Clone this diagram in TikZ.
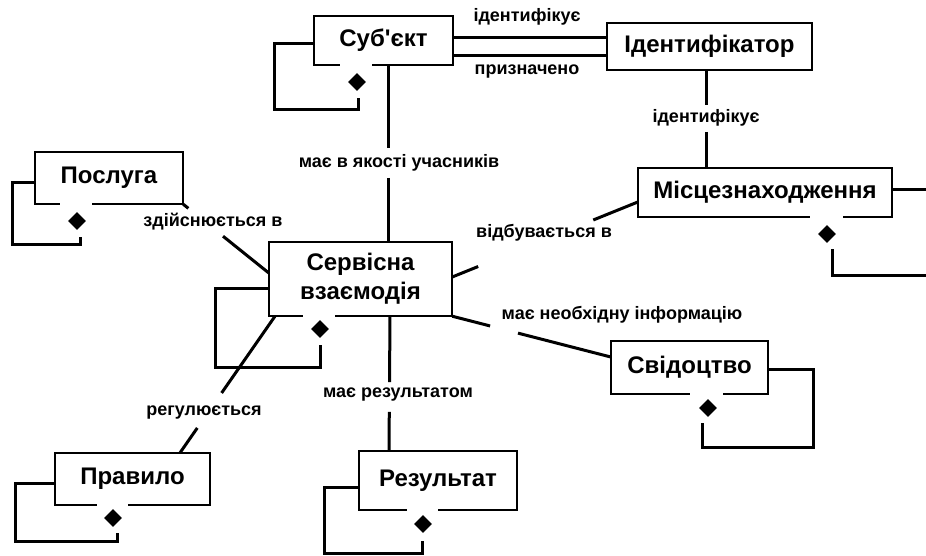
\documentclass[tikz,border=0pt]{standalone}
\usepackage{fontspec}
\setmainfont{Liberation Sans}
\usetikzlibrary{shapes.geometric,calc}

% box outline with an opening in the bottom edge (offsets from the left side)
\newcommand\gapbox[3]{%
  \draw[border] ($(#1.south west)+(#2,0)$) -- (#1.south west) -- (#1.north west)
    -- (#1.north east) -- (#1.south east) -- ($(#1.south west)+(#3,0)$);}
% connector interrupted between two fractions of its length
\newcommand\splitlink[4]{%
  \path #1 -- #2 coordinate[pos=#3] (ga) coordinate[pos=#4] (gb);
  \draw[link] #1 -- (ga);
  \draw[link] (gb) -- #2;}

\begin{document}
\begin{tikzpicture}[x=1pt,y=-1pt,
  entity/.style={inner sep=0pt, align=center,
    font=\fontsize{24}{29}\selectfont\bfseries},
  border/.style={line width=2pt, line join=miter},
  link/.style={line width=3pt},
  loopline/.style={line width=3pt, line join=miter},
  role/.style={inner sep=0pt, font=\fontsize{18}{20}\selectfont\bfseries},
  agg/.style={diamond, fill=black, inner sep=0pt,
    minimum width=18pt, minimum height=18pt}]
\clip (0,0) rectangle (926,555);
\fill[white] (0,0) rectangle (926,555);

% entities
\node[entity, minimum width=139pt, minimum height=49pt] (subj)  at (383.5,40.5) {Суб\textquotesingle єкт};
\node[entity, minimum width=205pt, minimum height=47pt] (ident) at (709.5,46.5) {Ідентифікатор};
\node[entity, minimum width=148pt, minimum height=52pt] (serv)  at (109,178)    {Послуга};
\node[entity, minimum width=254pt, minimum height=49pt] (loc)   at (765,192.5)  {Місцезнаходження};
\node[entity, minimum width=183pt, minimum height=74pt] (inter) at (360.5,279)  {Сервісна\\взаємодія};
\node[entity, minimum width=157pt, minimum height=53pt] (evid)  at (689.5,367.5){Свідоцтво};
\node[entity, minimum width=155pt, minimum height=52pt] (rule)  at (132.5,479)  {Правило};
\node[entity, minimum width=158pt, minimum height=59pt] (res)   at (438,480.5)  {Результат};

\draw[border] (ident.south west) rectangle (ident.north east);
\gapbox{subj}{26}{58}
\gapbox{serv}{25}{57}
\gapbox{loc}{172}{205}
\gapbox{inter}{34}{66}
\gapbox{evid}{79}{112}
\gapbox{rule}{42}{73}
\gapbox{res}{48}{79}

% aggregation diamonds
\node[agg] (subjd)  at (357,82)  {};
\node[agg] (servd)  at (77,221)  {};
\node[agg] (locd)   at (827,234) {};
\node[agg] (interd) at (320,329) {};
\node[agg] (evidd)  at (708,408) {};
\node[agg] (ruled)  at (113,518) {};
\node[agg] (resd)   at (423,524) {};

% self-associations
\draw[loopline] (subj.west |- 0,43)   -| (274,109) -| (358,98);
\draw[loopline] (serv.west |- 0,182)  -| (12,244)  -| (80,237);
\draw[loopline] (loc.east |- 0,189)   -| (940,275) -| (832,249);
\draw[loopline] (inter.west |- 0,288) -| (215,367) -| (320,345);
\draw[loopline] (evid.east |- 0,369)  -| (813,447) -| (702,423);
\draw[loopline] (rule.west |- 0,483)  -| (15,541)  -| (117,533);
\draw[loopline] (res.west |- 0,487)   -| (324,553) -| (422,541);

% associations
\draw[link] (subj.east |- 0,37) -- (ident.west |- 0,37);
\draw[link] (subj.east |- 0,55) -- (ident.west |- 0,55);
\node[role] (l1) at (527,17) {ідентифікує};
\node[role] (l2) at (527,72) {призначено};

\splitlink{(subj.south -| 388,0)}{(inter.north -| 388,0)}{0.469}{0.638}
\node[role] (l3) at (399,163) {має в якості учасників};

\splitlink{(ident.south -| 706,0)}{(loc.north -| 706,0)}{0.357}{0.633}
\node[role] (l4) at (706,118) {ідентифікує};

\splitlink{(serv.south east)}{(inter.west |- 0,273)}{0.06}{0.465}
\node[role] (l5) at (213,222) {здійснюється в};

\splitlink{(inter.east |- 0,277)}{(loc.west |- 0,202)}{0.14}{0.76}
\node[role] (l6) at (544,233) {відбувається в};

\splitlink{(inter.south east)}{(evid.west |- 0,357)}{0.239}{0.415}
\node[role] (l7) at (622,315) {має необхідну інформацію};

\splitlink{(inter.south -| 390,0)}{(res.north -| 389,0)}{0.489}{0.711}
\node[role] (l8) at (398,395) {має результатом};

\splitlink{(inter.south -| 275,0)}{(rule.north -| 180,0)}{0.562}{0.818}
\node[role] (l9) at (204,413) {регулюється};
\end{tikzpicture}
\end{document}
